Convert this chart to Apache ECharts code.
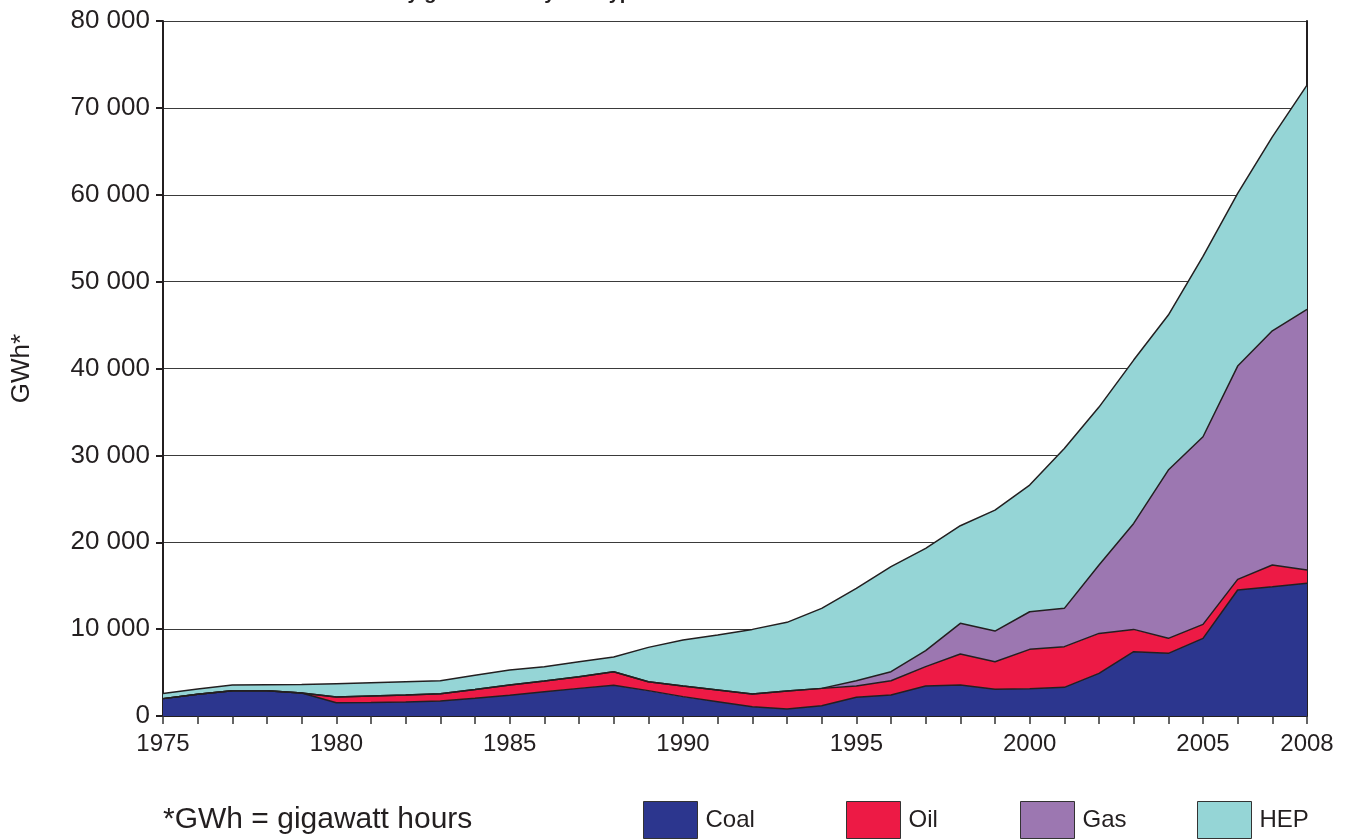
<!DOCTYPE html>
<html>
<head>
<meta charset="utf-8">
<script src="https://cdn.jsdelivr.net/npm/echarts@6/dist/echarts.min.js"></script>
<style>
html,body{margin:0;padding:0;background:#fff;}
#chart{width:1352px;height:840px;}
</style>
</head>
<body>
<div id="chart"></div>
<script>
var years = ['1975','1976','1977','1978','1979','1980','1981','1982','1983','1984','1985','1986','1987','1988','1989','1990','1991','1992','1993','1994','1995','1996','1997','1998','1999','2000','2001','2002','2003','2004','2005','2006','2007','2008'];
var coal = [2000,2500,2900,2900,2640,1530,1550,1620,1720,2050,2400,2800,3180,3530,2920,2230,1650,1070,800,1190,2150,2420,3450,3570,3070,3140,3300,4910,7400,7210,8940,14500,14880,15270];
var oil  = [0,0,0,0,0,650,750,800,840,1000,1170,1230,1350,1570,1030,1220,1340,1460,2080,1990,1300,1630,2230,3560,3180,4530,4680,4600,2570,1730,1610,1230,2500,1530];
var gas  = [0,0,0,0,0,0,0,0,0,0,0,0,0,0,0,0,0,0,0,0,610,1050,1840,3540,3530,4330,4410,7870,12200,19370,21590,24550,26960,30000];
var hep  = [600,600,670,700,980,1540,1530,1530,1500,1650,1720,1650,1720,1700,3950,5300,6330,7440,7900,9210,10630,12100,11780,11230,13920,14580,18410,18180,18800,17840,20760,19870,22320,25810];
var seriesNames = ['Coal','Oil','Gas','HEP'];
var colors = ['#2c368e','#ed1a45','#9c77b1','#95d5d6'];
var titleText = 'Electricity generation by fuel type';
var footnote = '*GWh = gigawatt hours';
var yName = 'GWh*';

var chart = echarts.init(document.getElementById('chart'));
var font = 'Liberation Sans, Arial, sans-serif';
var dataSets = [coal, oil, gas, hep];
var series = seriesNames.map(function(n, i){
  return {
    name: n, type: 'line', stack: 'total', data: dataSets[i],
    symbol: 'none', smooth: false,
    lineStyle: {color: '#231f20', width: 1.5},
    itemStyle: {color: colors[i], borderColor: '#333', borderWidth: 1},
    areaStyle: {color: colors[i], opacity: 1},
    emphasis: {disabled: true}
  };
});
var legendLefts = [643, 846, 1020, 1197];
var legends = seriesNames.map(function(n, i){
  return {
    data: [n], left: legendLefts[i], top: 801, orient: 'horizontal',
    itemWidth: 54, itemHeight: 37, icon: 'rect', itemGap: 0,
    padding: 0,
    itemStyle: {borderColor: '#333', borderWidth: 1},
    textStyle: {fontFamily: font, fontSize: 24, color: '#231f20', padding: [0,0,0,3]},
    selectedMode: false
  };
});
function fmt(v){ return String(v).replace(/\B(?=(\d{3})+(?!\d))/g, ' '); }
chart.setOption({
  animation: false,
  color: colors,
  title: [
    {text: titleText, left: 323, top: -17, padding: 0,
     textStyle: {fontFamily: font, fontSize: 20, fontWeight: 'bold', color: '#231f20'}},
    {text: footnote, left: 163, top: 805, padding: 0,
     textStyle: {fontFamily: font, fontSize: 30, fontWeight: 'normal', color: '#231f20'}}
  ],
  legend: legends,
  grid: {left: 163, right: 45, top: 21, bottom: 124, containLabel: false},
  xAxis: {
    type: 'category', data: years, boundaryGap: false,
    axisLine: {lineStyle: {color: '#231f20', width: 2}},
    axisTick: {show: true, interval: 0, length: 8, lineStyle: {color: '#333', width: 1.5}},
    axisLabel: {
      interval: function(idx, val){ return (+val) % 5 === 0 || val === '2008'; },
      fontFamily: font, fontSize: 24, color: '#231f20', margin: 16
    },
    splitLine: {show: false}
  },
  yAxis: [{
    type: 'value', min: 0, max: 80000, interval: 10000,
    name: yName, nameLocation: 'middle', nameRotate: 90, nameGap: 128,
    nameTextStyle: {fontFamily: font, fontSize: 26, color: '#231f20'},
    axisLine: {show: true, lineStyle: {color: '#231f20', width: 2}},
    axisTick: {show: true, length: 7, lineStyle: {color: '#231f20', width: 2}},
    axisLabel: {formatter: fmt, fontFamily: font, fontSize: 26, color: '#231f20', margin: 13},
    splitLine: {show: true, lineStyle: {color: '#3a3a3a', width: 1}}
  }, {
    type: 'value', min: 0, max: 80000, interval: 10000, position: 'right',
    axisLine: {show: true, lineStyle: {color: '#231f20', width: 2}},
    axisTick: {show: false}, axisLabel: {show: false}, splitLine: {show: false}
  }],
  series: series
});
</script>
</body>
</html>
